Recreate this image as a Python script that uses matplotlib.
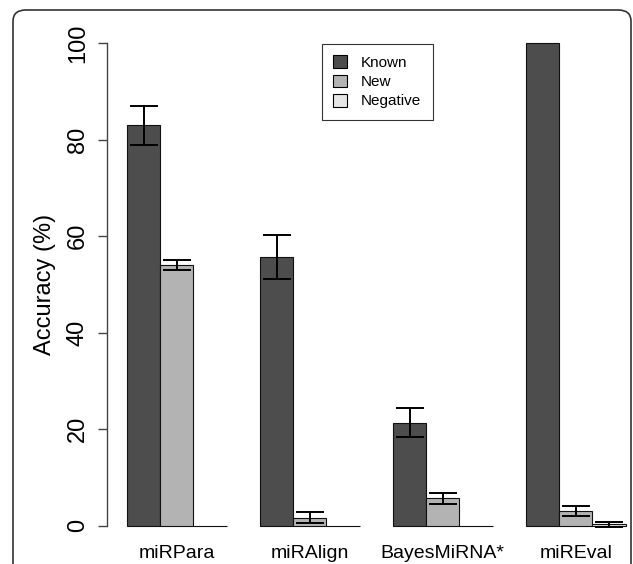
import matplotlib
matplotlib.use("Agg")
import matplotlib.pyplot as plt
import numpy as np
from matplotlib.patches import FancyBboxPatch, Patch

plt.rcParams['font.family'] = ['Liberation Sans', 'DejaVu Sans']

tools = ["miRPara", "miRAlign", "BayesMiRNA*", "miREval"]
series = ["Known", "New", "Negative"]
known = [83.0, 55.7, 21.3, 100.0]
known_err = [4.0, 4.5, 3.0, 0.0]
new = [54.0, 1.7, 5.7, 3.0]
new_err = [1.0, 1.2, 1.15, 1.0]
negative = [0.0, 0.0, 0.0, 0.3]
negative_err = [0.0, 0.0, 0.0, 0.5]
colors = ["#4d4d4d", "#b3b3b3", "#e6e6e6"]
yticks = [0, 20, 40, 60, 80, 100]

W, H = 633, 564
fig = plt.figure(figsize=(W / 100, H / 100), dpi=100)

# R-like layout: bar width 1, group gap 1, xlim 0.4..16.6, ylim -4..104
x0_px = 93.7
unit = 33.25
left_px = x0_px + 0.4 * unit
right_px = x0_px + 16.6 * unit
top_px, bot_px = 24.0, 545.0
ax = fig.add_axes([left_px / W, 1 - bot_px / H, (right_px - left_px) / W, (bot_px - top_px) / H])
ax.set_xlim(0.4, 16.6)
ax.set_ylim(-4, 104)

vals = [known, new, negative]
errs = [known_err, new_err, negative_err]
n = len(tools)
centers = []
for i in range(n):
    start = 1 + 4 * i
    centers.append(start + 1.5)
    for j in range(3):
        xc = start + j + 0.5
        ax.bar(xc, vals[j][i], width=1.0, color=colors[j], edgecolor="#111111",
               linewidth=0.8, zorder=2)
        if errs[j][i] > 0:
            ax.errorbar(xc, vals[j][i], yerr=errs[j][i], fmt="none", ecolor="black",
                        elinewidth=1.4, capsize=10, capthick=1.4, zorder=3)

for s in ["top", "right", "bottom"]:
    ax.spines[s].set_visible(False)
ax.spines["left"].set_bounds(0, 100)
ax.spines["left"].set_color("#444444")
ax.spines["left"].set_linewidth(1.0)
ax.set_yticks(yticks)
ax.set_yticklabels([str(t) for t in yticks], rotation=90, va="center", fontsize=17)
ax.tick_params(axis="y", length=6.5, width=1.0, color="#444444", pad=6.5)
ax.set_xticks(centers)
ax.set_xticklabels(tools, fontsize=14)
ax.tick_params(axis="x", length=0, pad=0)
ax.set_ylabel("Accuracy (%)", fontsize=17, labelpad=8)

handles = [Patch(facecolor=c, edgecolor="black", linewidth=0.8) for c in colors]
leg = ax.legend(handles, series, loc="upper left", bbox_to_anchor=(322 / W, 1 - 44 / H),
                bbox_transform=fig.transFigure, fontsize=11, frameon=True, fancybox=False,
                handlelength=0.9, handleheight=0.9, handletextpad=0.9, labelspacing=0.3,
                borderpad=0.75, borderaxespad=0)
leg.get_frame().set_edgecolor("black")
leg.get_frame().set_linewidth(0.8)

frame = FancyBboxPatch((13 / W, -0.2), (631 - 13) / W, (1 - 10 / H) + 0.2,
                       boxstyle="round,pad=0,rounding_size=0.02", transform=fig.transFigure,
                       facecolor="none", edgecolor="#333333", linewidth=1.2, clip_on=False)
fig.patches.append(frame)

fig.savefig("out.png", dpi=100)
